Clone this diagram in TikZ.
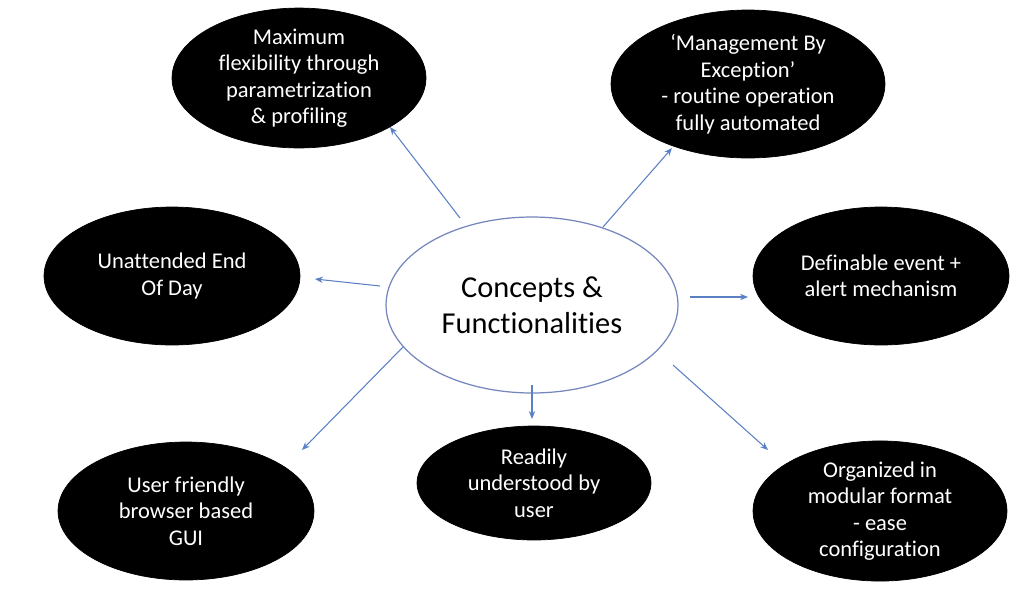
\documentclass[tikz,border=0pt]{standalone}
\usepackage{fontspec}
\setmainfont[Ligatures=NoCommon]{Carlito}
\usetikzlibrary{shapes.geometric,arrows.meta}
\definecolor{arrowblue}{HTML}{5B80C4}
\definecolor{ringblue}{HTML}{7486BC}
\tikzset{
  blackoval/.style={ellipse, fill=black, draw=black, inner sep=0pt, text=white, align=center,
    font=\fontsize{12.8pt}{15.1pt}\selectfont},
  centeroval/.style={ellipse, draw=ringblue, line width=0.7pt, fill=white, inner sep=0pt, align=center,
    font=\fontsize{17.3pt}{20.8pt}\selectfont},
  link/.style={draw=arrowblue, line width=0.6pt, -{Stealth[length=4.5pt,width=3.6pt]}}
}
\begin{document}
\begin{tikzpicture}[x=0.02cm, y=-0.02cm]
\useasboundingbox (0,0) rectangle (1024,596);
\fill[white] (0,0) rectangle (1024,596);

\node[centeroval, minimum width=5.84cm, minimum height=3.52cm] (c) at (532,305) {Concepts \&\\Functionalities};

\node[blackoval, minimum width=5.08cm, minimum height=2.68cm] (n1) at (299,78) {Maximum\\flexibility through\\parametrization\\\& profiling};
\node[blackoval, minimum width=5.48cm, minimum height=2.96cm] (n2) at (748,84) {‘Management By\\Exception’\\- routine operation\\fully automated};
\node[blackoval, minimum width=5.12cm, minimum height=2.76cm] (n3) at (172,276) {Unattended End\\Of Day};
\node[blackoval, minimum width=5.12cm, minimum height=2.76cm] (n4) at (881,276) {Definable event +\\alert mechanism};
\node[blackoval, minimum width=5.12cm, minimum height=2.76cm] (n5) at (186,511) {User friendly\\browser based\\GUI};
\node[blackoval, minimum width=4.68cm, minimum height=2.28cm] (n6) at (534,483) {Readily\\understood by\\user};
\node[blackoval, minimum width=5.08cm, minimum height=2.72cm] (n7) at (880,511) {Organized in\\modular format\\- ease\\configuration};

\coordinate (s1) at (460,218); \coordinate (e1) at (390,127);
\coordinate (s2) at (603,227); \coordinate (e2) at (672,148);
\coordinate (s3) at (380,286); \coordinate (e3) at (315,279);
\coordinate (s4) at (690,297); \coordinate (e4) at (748,297);
\coordinate (s5) at (403,347); \coordinate (e5) at (302,450);
\coordinate (s6) at (532,385); \coordinate (e6) at (532,419);
\coordinate (s7) at (673,365); \coordinate (e7) at (768,450);

\draw[link] (s1) -- (e1);
\draw[link] (s2) -- (e2);
\draw[link] (s3) -- (e3);
\draw[link] (s4) -- (e4);
\draw[link] (s5) -- (e5);
\draw[link] (s6) -- (e6);
\draw[link] (s7) -- (e7);
\end{tikzpicture}
\end{document}
